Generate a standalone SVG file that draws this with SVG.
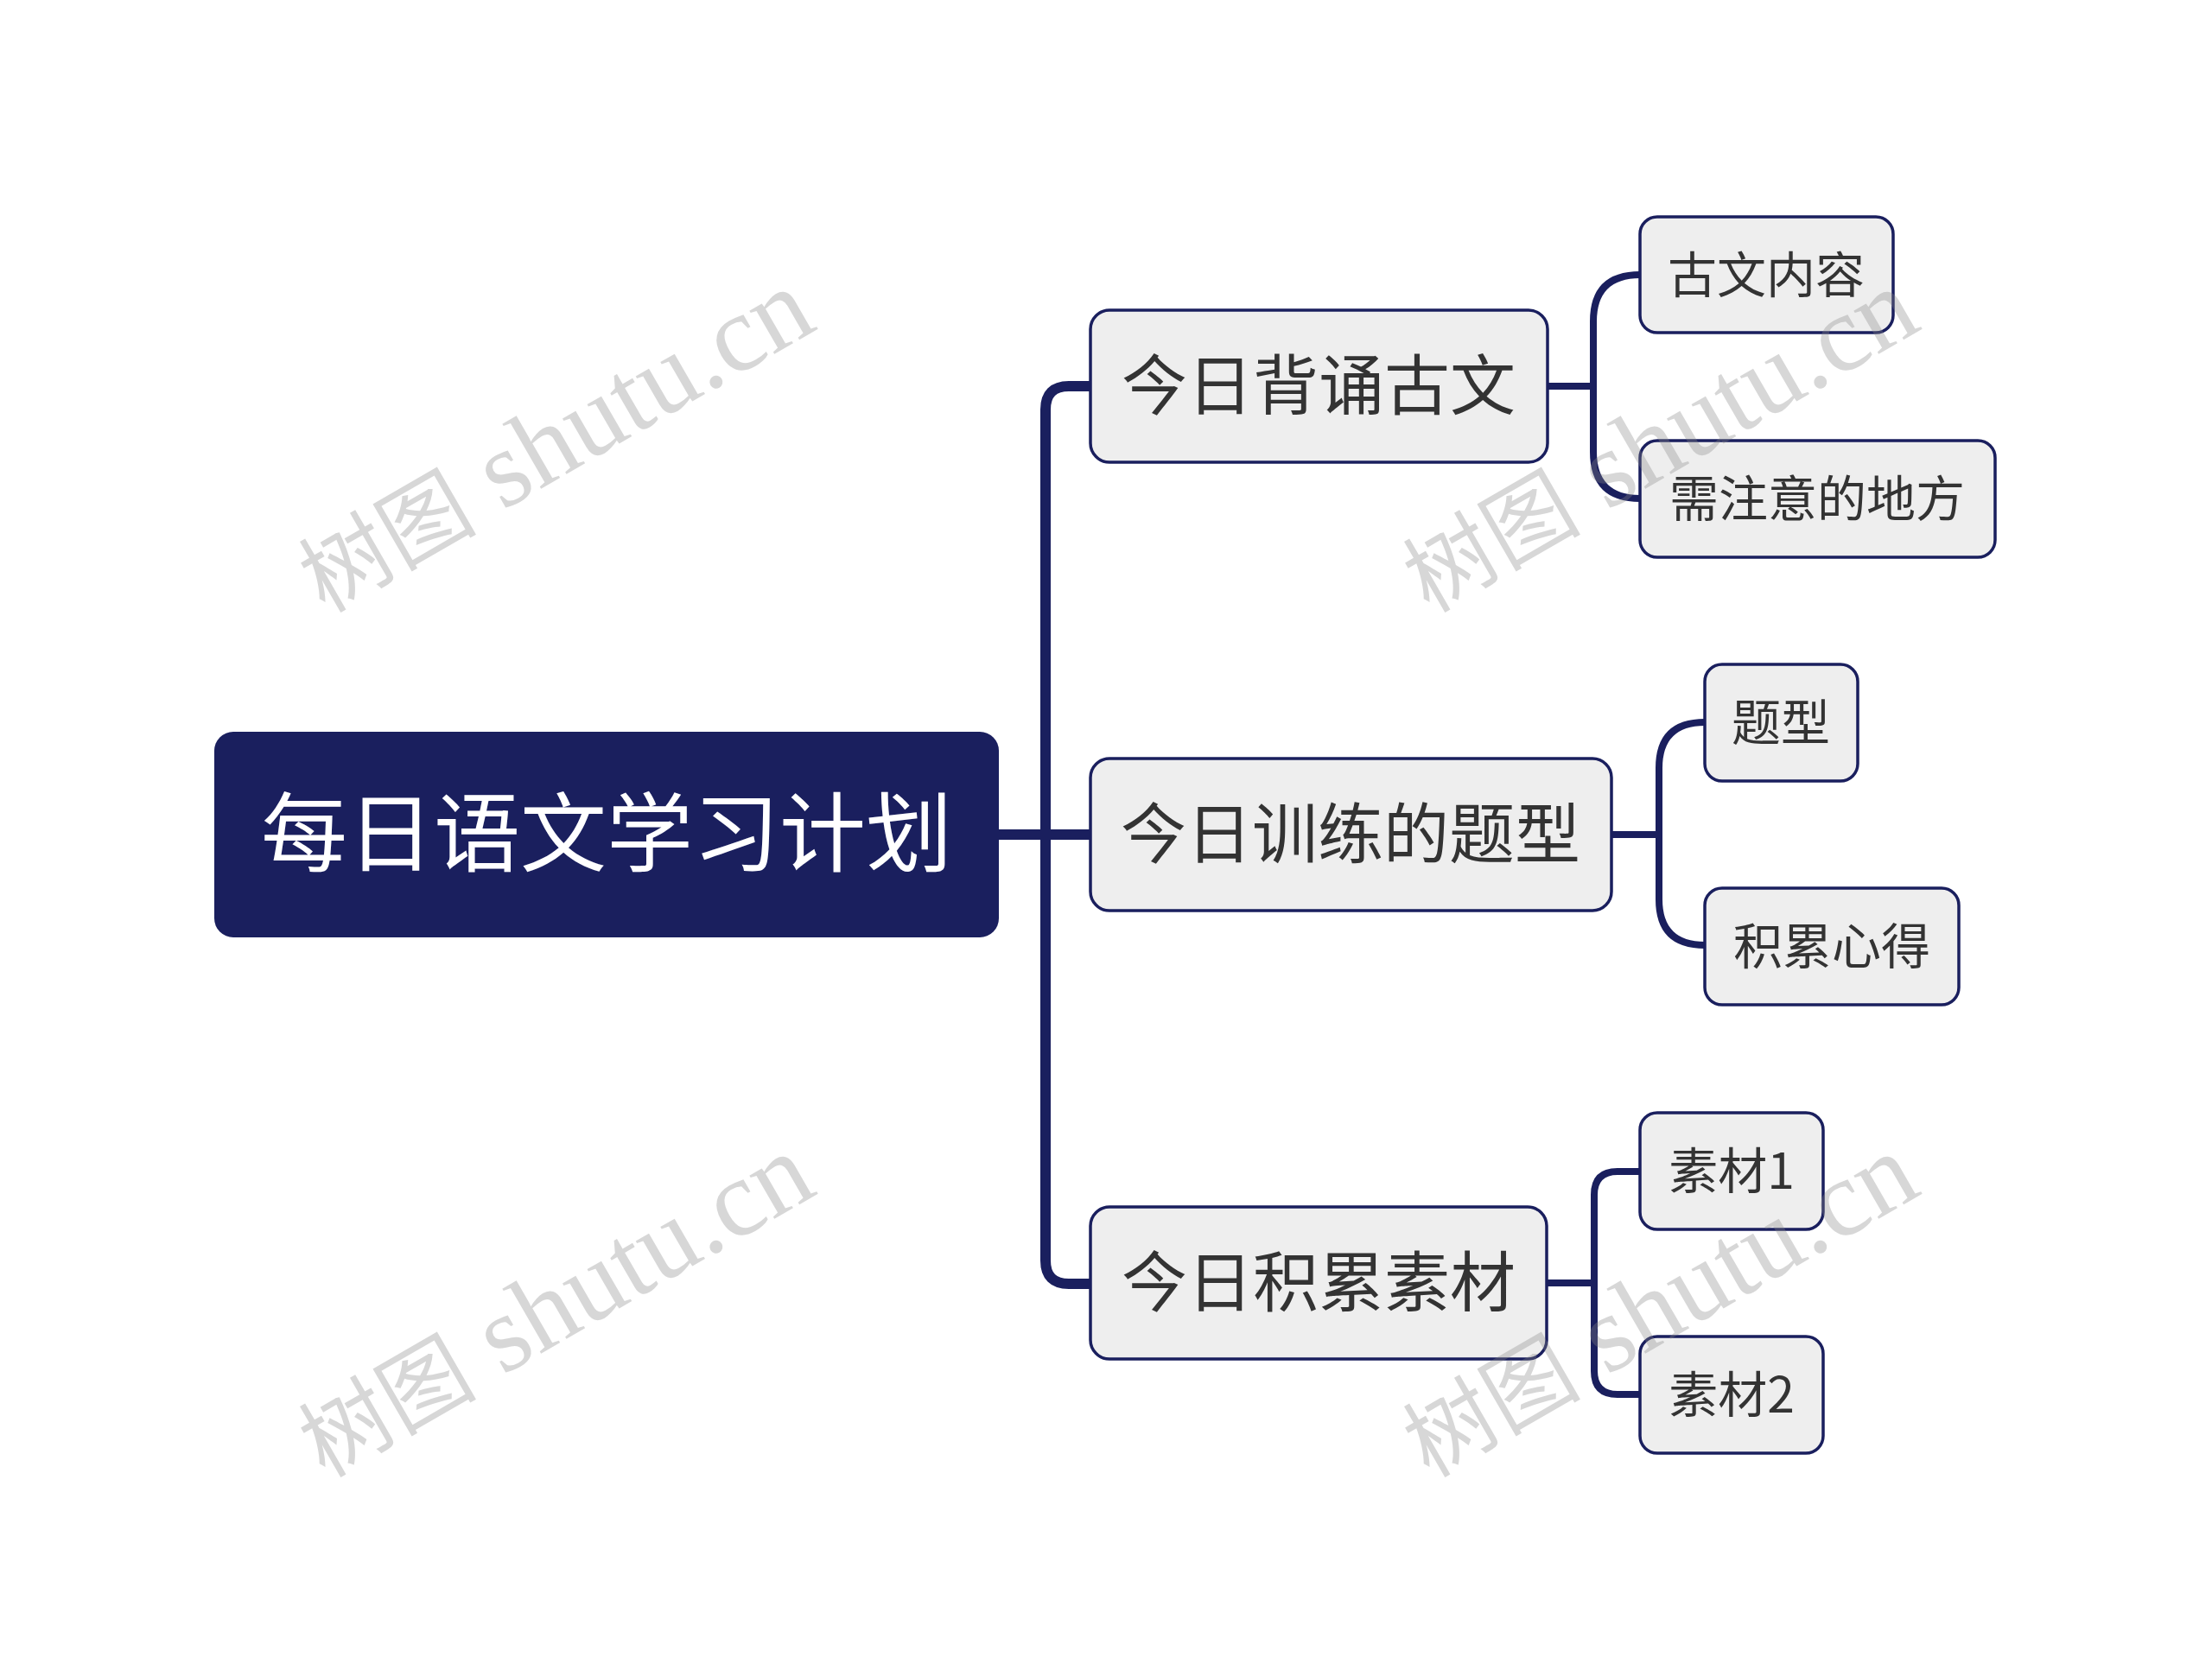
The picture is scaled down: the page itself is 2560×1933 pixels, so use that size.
<svg xmlns="http://www.w3.org/2000/svg" width="2560" height="1933" viewBox="0 0 2560 1933">
<style>
.trunk{fill:none;stroke:#1a1f5e;stroke-width:12;stroke-linecap:butt}
.sub{fill:none;stroke:#1a1f5e;stroke-width:8}
.box{fill:#eeeeee;stroke:#1a1f5e;stroke-width:3.5}
.root{fill:#1a1f5e}
.t{font-family:"Microsoft YaHei","Noto Sans CJK SC",sans-serif;fill:#333333;text-anchor:middle}
.rt{font-family:"Microsoft YaHei","Noto Sans CJK SC",sans-serif;fill:#ffffff;text-anchor:middle;font-size:100px}
.b{font-size:76px}
.c{font-size:57px}
.wm{font-family:"Liberation Serif","Noto Sans CJK SC",serif;fill:#888888;opacity:0.33;text-anchor:middle}
.wc{font-size:103px}
.wl{font-size:126px}
</style>
<rect width="2560" height="1933" fill="#ffffff"/>
<g id="connectors">
<path class="trunk" d="M1156 966 H1262"/>
<path class="trunk" d="M1262 447 H1237 Q1210 447 1210 474 V1459 Q1210 1486 1237 1486 H1262"/>
<path class="sub" d="M1791 447 H1844"/>
<path class="sub" d="M1898 318 Q1844 318 1844 372 V523 Q1844 577 1898 577"/>
<path class="sub" d="M1865 966 H1920"/>
<path class="sub" d="M1973 836 Q1920 836 1920 889 V1041 Q1920 1094 1973 1094"/>
<path class="sub" d="M1790 1485 H1845"/>
<path class="sub" d="M1898 1356 H1872 Q1845 1356 1845 1383 V1587 Q1845 1614 1872 1614 H1898"/>
</g>
<g id="root">
<rect class="root" x="248" y="847" width="908" height="238" rx="22"/>
<text class="rt" x="702" y="1001">每日语文学习计划</text>
</g>
<g id="b1">
<rect class="box" x="1262" y="359" width="529" height="176" rx="22"/>
<text class="t b" x="1526" y="474">今日背诵古文</text>
</g>
<g id="b2">
<rect class="box" x="1262" y="878" width="603" height="176" rx="22"/>
<text class="t b" x="1563" y="993">今日训练的题型</text>
</g>
<g id="b3">
<rect class="box" x="1262" y="1397" width="528" height="176" rx="22"/>
<text class="t b" x="1526" y="1512">今日积累素材</text>
</g>
<g id="c1">
<rect class="box" x="1898" y="251" width="293" height="134" rx="20"/>
<text class="t c" x="2044" y="339">古文内容</text>
</g>
<g id="c2">
<rect class="box" x="1898" y="510" width="411" height="135" rx="20"/>
<text class="t c" x="2103" y="598">需注意的地方</text>
</g>
<g id="c3">
<rect class="box" x="1973" y="769" width="177" height="135" rx="20"/>
<text class="t c" x="2061" y="857">题型</text>
</g>
<g id="c4">
<rect class="box" x="1973" y="1028" width="294" height="135" rx="20"/>
<text class="t c" x="2120" y="1116">积累心得</text>
</g>
<g id="c5">
<rect class="box" x="1898" y="1288" width="212" height="135" rx="20"/>
<text class="t c" x="2004" y="1376">素材1</text>
</g>
<g id="c6">
<rect class="box" x="1898" y="1547" width="212" height="135" rx="20"/>
<text class="t c" x="2004" y="1635">素材2</text>
</g>
<g id="watermarks">
<text class="wm" transform="translate(643 512) rotate(-30)" y="38"><tspan class="wc">树图</tspan><tspan class="wl"> shutu.cn</tspan></text>
<text class="wm" transform="translate(1921 512) rotate(-30)" y="38"><tspan class="wc">树图</tspan><tspan class="wl"> shutu.cn</tspan></text>
<text class="wm" transform="translate(643 1513) rotate(-30)" y="38"><tspan class="wc">树图</tspan><tspan class="wl"> shutu.cn</tspan></text>
<text class="wm" transform="translate(1921 1513) rotate(-30)" y="38"><tspan class="wc">树图</tspan><tspan class="wl"> shutu.cn</tspan></text>
</g>
</svg>
